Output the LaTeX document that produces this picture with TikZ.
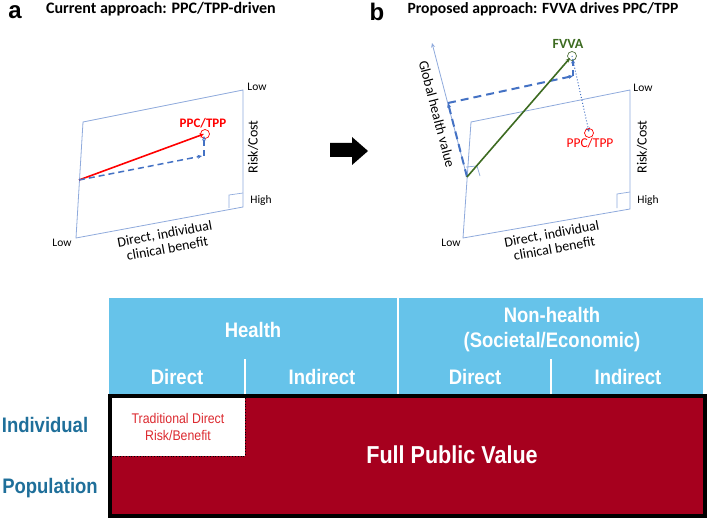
\documentclass[tikz,border=0pt]{standalone}
\usepackage{fontspec}
\setmainfont{Carlito}
\newfontfamily\tabfont{Liberation Sans}[FakeStretch=0.88]
\newfontfamily\letfont{Liberation Sans}
\usetikzlibrary{arrows.meta}
\definecolor{planeblue}{HTML}{8FAADC}
\definecolor{dashblue}{HTML}{4472C4}
\definecolor{fvgreen}{HTML}{3D6B21}
\definecolor{hdrblue}{HTML}{66C3EA}
\definecolor{darkred}{HTML}{A6001E}
\definecolor{rowteal}{HTML}{1F6F9A}
\definecolor{tradred}{HTML}{DC2A30}
\tikzset{
  plane/.style={draw=planeblue, line width=0.8pt},
  tip/.style={-{Stealth[length=4.5pt,width=4pt]}},
  dashln/.style={draw=dashblue, dash pattern=on 6pt off 4pt, line width=1.5pt, tip},
  dashlnb/.style={draw=dashblue, dash pattern=on 8pt off 5pt, line width=2pt, tip},
  smalltxt/.style={font=\fontsize{11.5}{13}\selectfont, inner sep=0pt},
  axtxt/.style={font=\fontsize{14}{15}\selectfont, align=center, inner sep=0pt},
  lettxt/.style={font=\fontsize{24}{26}\selectfont\letfont\bfseries, inner sep=0pt},
  hdrtxt/.style={font=\fontsize{21}{25}\selectfont\tabfont\bfseries, text=white, align=center, inner sep=0pt},
  rowtxt/.style={font=\fontsize{21}{22}\selectfont\tabfont\bfseries, text=rowteal, inner sep=0pt},
  pt circ/.style={draw, line width=0.7pt, fill=none, circle, minimum size=9pt, inner sep=0pt},
}
\begin{document}
\begin{tikzpicture}[x=1pt, y=-1pt]
\useasboundingbox (0,0) rectangle (708,521);

% ---------- titles ----------
\node[lettxt] (la) at (15,12) {a};
\node[font=\fontsize{16}{17}\selectfont\bfseries, inner sep=0pt] (ta) at (161,9) {Current approach: PPC/TPP-driven};
\node[lettxt] (lb) at (377,12) {b};
\node[font=\fontsize{15.6}{17}\selectfont\bfseries, inner sep=0pt] (tb) at (543,9) {Proposed approach: FVVA drives PPC/TPP};

% ---------- panel a ----------
\coordinate (aTL) at (83,122);
\coordinate (aTR) at (243,90);
\coordinate (aBR) at (243,207);
\coordinate (aBL) at (76,238);
\draw[plane] (aTL) -- (aTR) -- (aBR) -- (aBL) -- cycle;
\draw[planeblue, line width=0.7pt] (229,208) -- (229,195) -- (243,193);
\node[smalltxt] (alow1) at (257,87) {Low};
\node[smalltxt] (ahigh) at (261,200) {High};
\node[axtxt, rotate=90] (arisk) at (253,147) {Risk/Cost};
\node[smalltxt] (alow2) at (62,243) {Low};
\node[axtxt, rotate=10.5] (aben) at (166,241) {Direct, individual\\clinical benefit};

\coordinate (aO) at (79,180);
\coordinate (aP) at (204,134);
\coordinate (aC) at (204,156);
\node[pt circ, draw=red] (aPc) at (205,134) {};
\draw[red, line width=1.6pt, tip] (aO) -- (aP);
\draw[dashln] (aO) -- (202,156);
\draw[dashln] (aC) -- (204,136);
\node[font=\fontsize{13}{14}\selectfont\bfseries, text=red, inner sep=0pt] (appc) at (203,123) {PPC/TPP};

% big arrow
\fill[black] (330,143) -- (352,143) -- (352,137) -- (368,151) -- (352,165) -- (352,157) -- (330,157) -- cycle;

% ---------- panel b ----------
\coordinate (bTL) at (471,122);
\coordinate (bTR) at (630,90);
\coordinate (bBR) at (630,209);
\coordinate (bBL) at (463,238);
\draw[plane] (bTL) -- (bTR) -- (bBR) -- (bBL) -- cycle;
\draw[planeblue, line width=0.7pt] (617,208) -- (617,194) -- (630,192);
\node[smalltxt] (blow1) at (643,88) {Low};
\node[smalltxt] (bhigh) at (648,200) {High};
\node[axtxt, rotate=90] (brisk) at (642,147) {Risk/Cost};
\node[smalltxt] (blow2) at (451,243) {Low};
\node[axtxt, rotate=10.5] (bben) at (553,241) {Direct, individual\\clinical benefit};

\coordinate (bO) at (467,177);
\coordinate (bG) at (432,43);
\draw[planeblue, line width=0.8pt, tip] (bO) -- (bG);
\draw[planeblue, line width=0.7pt] (466,167) -- (477,166) -- (480,176);
\node[axtxt, rotate=-75.4] (bglob) at (437,114) {Global health value};

\coordinate (bD1) at (448,103);
\coordinate (bD2) at (573,76);
\coordinate (bF) at (572,56);
\coordinate (bPP) at (589,132);
\draw[dashlnb] (bO) -- (bD1);
\draw[dashlnb] (bD1) -- (bD2);
\draw[dashln] (bD2) -- (573,59);
\draw[fvgreen, line width=1.6pt, tip] (bO) -- (570,58);
\node[pt circ, draw=fvgreen!70!gray] (bFc) at (bF) {};
\draw[dashblue, line width=1pt, dotted, tip] (bF) -- (bPP);
\node[pt circ, draw=red] (bPc) at (589,133) {};
\node[font=\fontsize{14}{15}\selectfont\bfseries, text=fvgreen, inner sep=0pt] (bfvva) at (568,44) {FVVA};
\node[font=\fontsize{13.5}{15}\selectfont, text=red, inner sep=0pt] (bppc) at (590,143) {PPC/TPP};

% ---------- table ----------
\fill[hdrblue] (109,298) rectangle (703,396);
\draw[white, line width=2pt] (398,298) -- (398,396);
\draw[white, line width=1.5pt] (245,359) -- (245,396);
\draw[white, line width=1.5pt] (551,359) -- (551,396);
\node[hdrtxt] (health) at (253,330) {Health};
\node[hdrtxt] (nonh) at (552,330) {Non-health\\(Societal/Economic)};
\node[hdrtxt] (hd) at (177,377) {Direct};
\node[hdrtxt] (hi) at (322,377) {Indirect};
\node[hdrtxt] (nd) at (475,377) {Direct};
\node[hdrtxt] (ni) at (628,377) {Indirect};

\draw[black, line width=3.5pt, fill=darkred] (110,396) rectangle (705,516);
\fill[white] (112,398) rectangle (245,456);
\draw[black, line width=0.8pt, dotted] (245,398) -- (245,456) -- (112,456);
\node[font=\fontsize{14}{17}\selectfont\tabfont, text=tradred, align=center, inner sep=0pt] (trad) at (178,427) {Traditional Direct\\Risk/Benefit};
\node[font=\fontsize{24.5}{26}\selectfont\tabfont\bfseries, text=white, inner sep=0pt] (fpv) at (452,455) {Full Public Value};
\node[rowtxt] (indiv) at (45,425) {Individual};
\node[rowtxt] (popul) at (50,488) {Population};
\end{tikzpicture}
\end{document}
